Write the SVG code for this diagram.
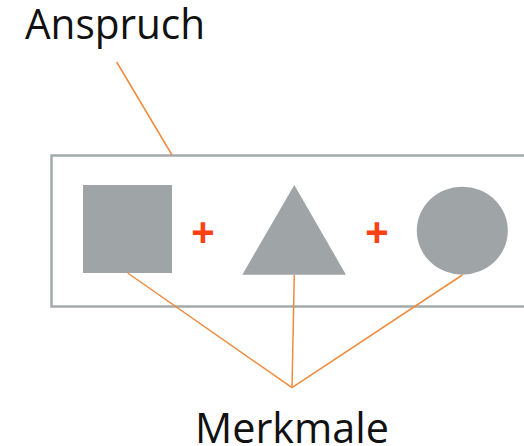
<svg xmlns="http://www.w3.org/2000/svg" width="524" height="446" viewBox="0 0 524 446">
<style>
.shape{fill:#9fa5a7}
.lbl{font-family:"Open Sans","Liberation Sans",sans-serif;font-size:42px;fill:#111}
.plus{font-family:"Liberation Sans",sans-serif;font-size:40px;font-weight:bold;fill:#ff4010;text-anchor:middle}
.conn{stroke:#f08a3c;stroke-width:1.5;fill:none}
</style>
<rect width="524" height="446" fill="#fff"/>
<g id="claim-box"><rect x="51.5" y="155.5" width="480" height="151" fill="none" stroke="#a4aaac" stroke-width="2.5"/></g>
<g id="square"><rect class="shape" x="83" y="185" width="89" height="88"/></g>
<g id="triangle"><polygon class="shape" points="294.3,185 346,274.7 242.3,274.7"/></g>
<g id="circle"><ellipse class="shape" cx="462.3" cy="230.7" rx="45.5" ry="44"/></g>
<g id="plus1"><text class="plus" x="203" y="246">+</text></g>
<g id="plus2"><text class="plus" x="377" y="246">+</text></g>
<g id="label-anspruch"><text class="lbl" x="25" y="39" textLength="180" lengthAdjust="spacingAndGlyphs">Anspruch</text></g>
<g id="label-merkmale"><text class="lbl" x="195" y="443" textLength="194" lengthAdjust="spacingAndGlyphs">Merkmale</text></g>
<g id="connectors">
<line class="conn" x1="116.7" y1="62" x2="172" y2="155"/>
<line class="conn" x1="127.7" y1="273" x2="292" y2="387.7"/>
<line class="conn" x1="294.3" y1="275" x2="292" y2="387.7"/>
<line class="conn" x1="462.3" y1="275" x2="292" y2="387.7"/>
</g>
</svg>
